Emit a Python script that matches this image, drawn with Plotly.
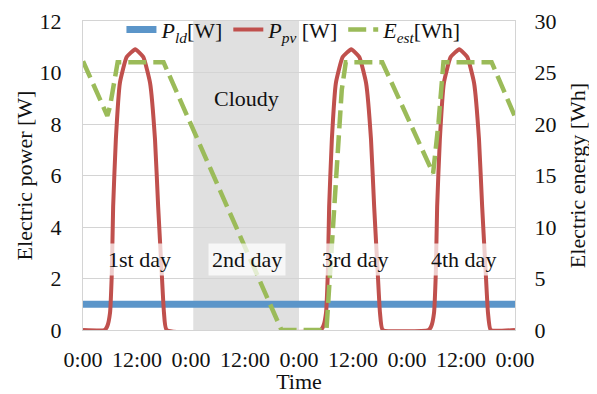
import plotly.graph_objects as go

# ---- data (hours from start of 1st day) ----
tick_hours = [0, 12, 24, 36, 48, 60, 72, 84, 96]
tick_labels = ["0:00", "12:00", "0:00", "12:00", "0:00", "12:00", "0:00", "12:00", "0:00"]

load_hours = [0, 96]
load_watts = [1.0, 1.0]

pv_hours = [0, 4.8, 5.4, 6.0, 6.4, 6.7, 7.3, 8.2, 9.7, 11.6, 13.4, 14.9, 16.0, 16.7, 17.5, 18.0, 18.6,
            52.8, 53.4, 54.0, 54.4, 54.7, 55.3, 56.2, 57.7, 59.6, 61.4, 62.9, 64.0, 64.7, 65.5, 66.0, 66.6,
            76.8, 77.4, 78.0, 78.4, 78.7, 79.3, 80.2, 81.7, 83.6, 85.4, 86.9, 88.0, 88.7, 89.5, 90.0, 90.6, 96]
pv_watts = [0, 0, 0.15, 0.66, 2.2, 4.8, 7.4, 9.6, 10.6, 10.9, 10.6, 9.6, 7.4, 4.8, 2.2, 0.66, 0,
            0, 0.15, 0.66, 2.2, 4.8, 7.4, 9.6, 10.6, 10.9, 10.6, 9.6, 7.4, 4.8, 2.2, 0.66, 0,
            0, 0.15, 0.66, 2.2, 4.8, 7.4, 9.6, 10.6, 10.9, 10.6, 9.6, 7.4, 4.8, 2.2, 0.66, 0, 0]

est_hours = [0, 5.4, 6.0, 7.1, 7.7, 17.9, 44.1, 54.1, 54.9, 56.4, 57.5, 58.4, 66.5, 77.8, 79.0, 80.1, 90.8, 96]
est_wh = [26.1, 20.8, 21.7, 24.3, 26.0, 26.0, 0.0, 0.0, 5.5, 15.2, 23.3, 26.0, 26.0, 15.2, 20.1, 26.0, 26.0, 20.7]

cloudy_span = [24.5, 48.0]
day_labels = ["1st day", "2nd day", "3rd day", "4th day"]
day_label_hours = [12.6, 36.4, 60.5, 84.6]
day_label_y = 2.75

FONT = "Liberation Serif"
TXT = "#111111"
GRID = "#D4D4D4"

fig = go.Figure()

fig.add_trace(go.Scatter(
    x=load_hours, y=load_watts, mode="lines",
    line=dict(color="#5B95C9", width=7),
    name="<i>P</i><sub><i>ld</i></sub>[W]"))
fig.add_trace(go.Scatter(
    x=pv_hours, y=pv_watts, mode="lines",
    line=dict(color="#C0504D", width=4, shape="spline", smoothing=0.4),
    name="<i>P</i><sub><i>pv</i></sub> [W]"))
fig.add_trace(go.Scatter(
    x=est_hours, y=est_wh, mode="lines", yaxis="y2",
    line=dict(color="#9BBB59", width=4.5, dash="18px,7px"),
    name="<i>E</i><sub><i>est</i></sub>[Wh]"))

fig.add_shape(type="rect", xref="x", yref="paper",
              x0=cloudy_span[0], x1=cloudy_span[1], y0=0, y1=1,
              fillcolor="#E0E0E0", line_width=0, layer="below")

fig.add_annotation(x=(cloudy_span[0] + cloudy_span[1]) / 2, y=9.0, xref="x", yref="y",
                   text="Cloudy", showarrow=False, font=dict(family=FONT, size=22, color=TXT))

for lab, hx in zip(day_labels, day_label_hours):
    fig.add_annotation(x=hx, y=day_label_y, xref="x", yref="y", text=lab, showarrow=False,
                       font=dict(family=FONT, size=22, color=TXT),
                       bgcolor="rgba(255,255,255,0.72)", borderpad=3)

# the page body adds an 8px offset, so the figure is sized to the remaining area
fig.update_layout(
    width=589, height=386,
    margin=dict(l=75, r=82, t=13, b=64, autoexpand=False),
    paper_bgcolor="white", plot_bgcolor="white",
    font=dict(family=FONT, size=22, color=TXT),
    showlegend=True,
    legend=dict(orientation="h", x=0.089, y=1.04, xanchor="left", yanchor="top",
                bgcolor="rgba(0,0,0,0)", font=dict(family=FONT, size=22, color=TXT),
                itemwidth=30, tracegroupgap=0),
    xaxis=dict(range=[0, 96], tickvals=tick_hours, ticktext=tick_labels,
               showgrid=False, zeroline=False, showline=True, linecolor=GRID, mirror=True,
               ticks="outside", ticklen=10, tickcolor="rgba(0,0,0,0)", automargin=False,
               tickfont=dict(family=FONT, size=22, color=TXT),
               title=dict(text="Time", standoff=1, font=dict(family=FONT, size=22, color=TXT))),
    yaxis=dict(range=[0, 12], dtick=2, showgrid=True, gridcolor=GRID, zeroline=False,
               showline=True, linecolor=GRID, mirror=True, automargin=False,
               ticks="outside", ticklen=16, tickcolor="rgba(0,0,0,0)",
               tickfont=dict(family=FONT, size=22, color=TXT),
               title=dict(text="Electric power [W]", standoff=0,
                          font=dict(family=FONT, size=22, color=TXT))),
    yaxis2=dict(range=[0, 30], dtick=5, overlaying="y", side="right", showgrid=False,
                zeroline=False, ticks="outside", ticklen=14, tickcolor="rgba(0,0,0,0)",
                automargin=False, tickfont=dict(family=FONT, size=22, color=TXT),
                title=dict(text="Electric energy [Wh]", standoff=14,
                           font=dict(family=FONT, size=22, color=TXT))),
)

fig.write_html("out.html")
